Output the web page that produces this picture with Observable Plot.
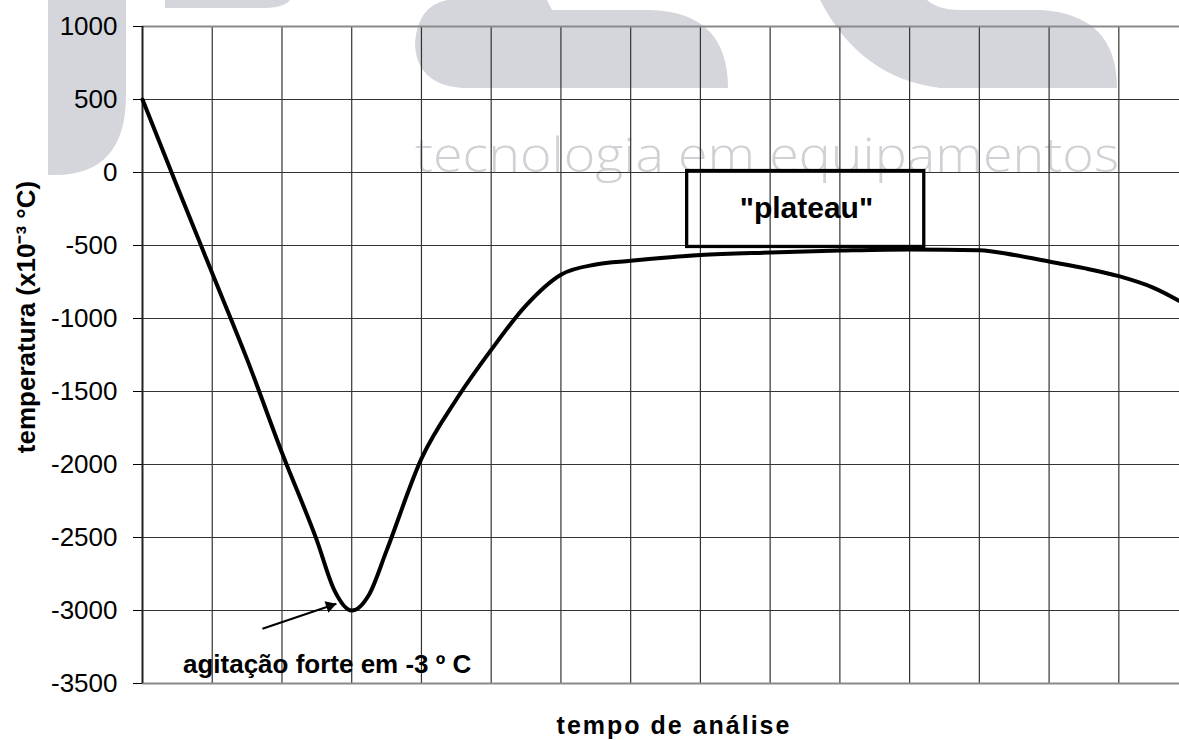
<!DOCTYPE html>
<html><head><meta charset="utf-8">
<script src="https://cdn.jsdelivr.net/npm/d3@7"></script>
<script src="https://cdn.jsdelivr.net/npm/@observablehq/plot@0.6"></script>
<style>
body{margin:0;background:#fff;}
#wrap{position:relative;width:1179px;height:740px;overflow:hidden;}
#wm{position:absolute;left:0;top:0;}
#chart{position:absolute;left:0;top:0;}
</style></head><body>
<div id="wrap">
<svg id="wm" width="1179" height="740">
  <g fill="#d5d6db">
    <path d="M48,0 H126 V95 Q126,175 55,175 H48 Z"/>
    <path d="M165,0 H290 Q284,8 262,8 H165 Z"/>
    <path d="M447,0 H547 L552,10 H650 Q728,12 728,88 H462 Q415,84 415,42 Q418,6 447,0 Z"/>
    <path d="M820,0 H927 Q938,10 960,10 H1040 Q1117,14 1117,88 H940 Q860,78 820,0 Z"/>
  </g>
  <text x="415" y="172" font-family="'Open Sans', 'DejaVu Sans', sans-serif" font-weight="300" font-size="47" fill="#d0d1d5" textLength="704" lengthAdjust="spacingAndGlyphs">tecnologia em equipamentos</text>
</svg>
<div id="chart"></div>
</div>
<script>
// curve: tempo de análise (grid units) vs temperatura (x10^-3 °C)
const timeX = [0, 0.5, 1, 1.5, 2, 2.5, 2.75, 3, 3.25, 3.5, 4, 4.5, 5, 5.5, 6, 6.5, 7, 8, 9, 10, 11, 12, 12.5, 13, 13.5, 14, 14.5, 14.87];
const tempY = [500, -100, -690, -1280, -1920, -2520, -2860, -3000, -2890, -2590, -1960, -1555, -1215, -910, -700, -630, -605, -565, -548, -535, -527, -532, -565, -610, -655, -710, -790, -880];

const yTicks = [1000, 500, 0, -500, -1000, -1500, -2000, -2500, -3000, -3500];
const xGridLines = [1, 2, 3, 4, 5, 6, 7, 8, 9, 10, 11, 12, 13, 14];
const xDomain = [0, 14.87];
const yDomain = [-3500, 1000];

// annotations
const plateauBox = [{x1: 7.81, x2: 11.21, y1: -510, y2: 10}];
const plateauLabel = [{x: 9.52, y: -315, text: "\"plateau\""}];
const agitLabel = [{x: 0.58, y: -3430, text: "agitação forte em -3 º C"}];
const agitArrow = [{x1: 1.72, y1: -3125, x2: 2.78, y2: -2954}];
const yTitle = "temperatura (x10⁻³ °C)";
const xTitle = "tempo de análise";

const data = timeX.map((x, i) => ({x, y: tempY[i]}));

const chart = Plot.plot({
  width: 1179, height: 740,
  marginLeft: 142, marginRight: 0, marginTop: 26, marginBottom: 57,
  style: {background: "transparent", fontFamily: "'Liberation Sans', Arial, sans-serif", overflow: "visible", color: "black"},
  x: {domain: xDomain, axis: null},
  y: {domain: yDomain, axis: null},
  marks: [
    Plot.ruleX(xGridLines, {stroke: "#333", strokeWidth: 1.2}),
    Plot.ruleY(yTicks.filter(d => d !== 1000 && d !== -3500), {stroke: "#333", strokeWidth: 1.2}),
    Plot.ruleY([1000, -3500], {stroke: "#8a8a8a", strokeWidth: 2}),
    Plot.axisY({ticks: yTicks, tickSize: 9, tickPadding: 16, fontSize: 26, label: null, tickFormat: d => String(d).replace("−", "-")}),
    Plot.ruleX([0], {stroke: "#222", strokeWidth: 2}),
    Plot.rect(plateauBox, {x1: "x1", x2: "x2", y1: "y1", y2: "y2", fill: "none", stroke: "black", strokeWidth: 3.3}),
    Plot.line(data, {x: "x", y: "y", curve: "monotone-x", stroke: "black", strokeWidth: 4}),
    Plot.text(plateauLabel, {x: "x", y: "y", text: "text", lineAnchor: "bottom", fontWeight: "bold", fontSize: 30, fill: "black"}),
    Plot.text(agitLabel, {x: "x", y: "y", text: "text", textAnchor: "start", lineAnchor: "bottom", fontWeight: "bold", fontSize: 26, fill: "black"}),
    Plot.link(agitArrow, {x1: "x1", y1: "y1", x2: "x2", y2: "y2", stroke: "black", strokeWidth: 2}),
    Plot.dot(agitArrow, {x: "x2", y: "y2", symbol: "triangle", r: 4.5, rotate: 71.5, dx: -6.6, dy: 2.2, fill: "black", stroke: "none"}),
    Plot.text([yTitle], {text: d => d, frameAnchor: "left", textAnchor: "middle", rotate: -90, dx: -116, dy: -38, fontWeight: "bold", fontSize: 26, fill: "black"}),
    Plot.text([xTitle], {text: d => d, frameAnchor: "bottom", lineAnchor: "bottom", dx: 13, dy: 50, fontWeight: "bold", fontSize: 25, fill: "black"})
  ]
});
d3.select(chart).selectAll("text").filter(function() { return this.textContent === xTitle; }).style("letter-spacing", "2px");
document.getElementById("chart").appendChild(chart);
</script>
</body></html>
